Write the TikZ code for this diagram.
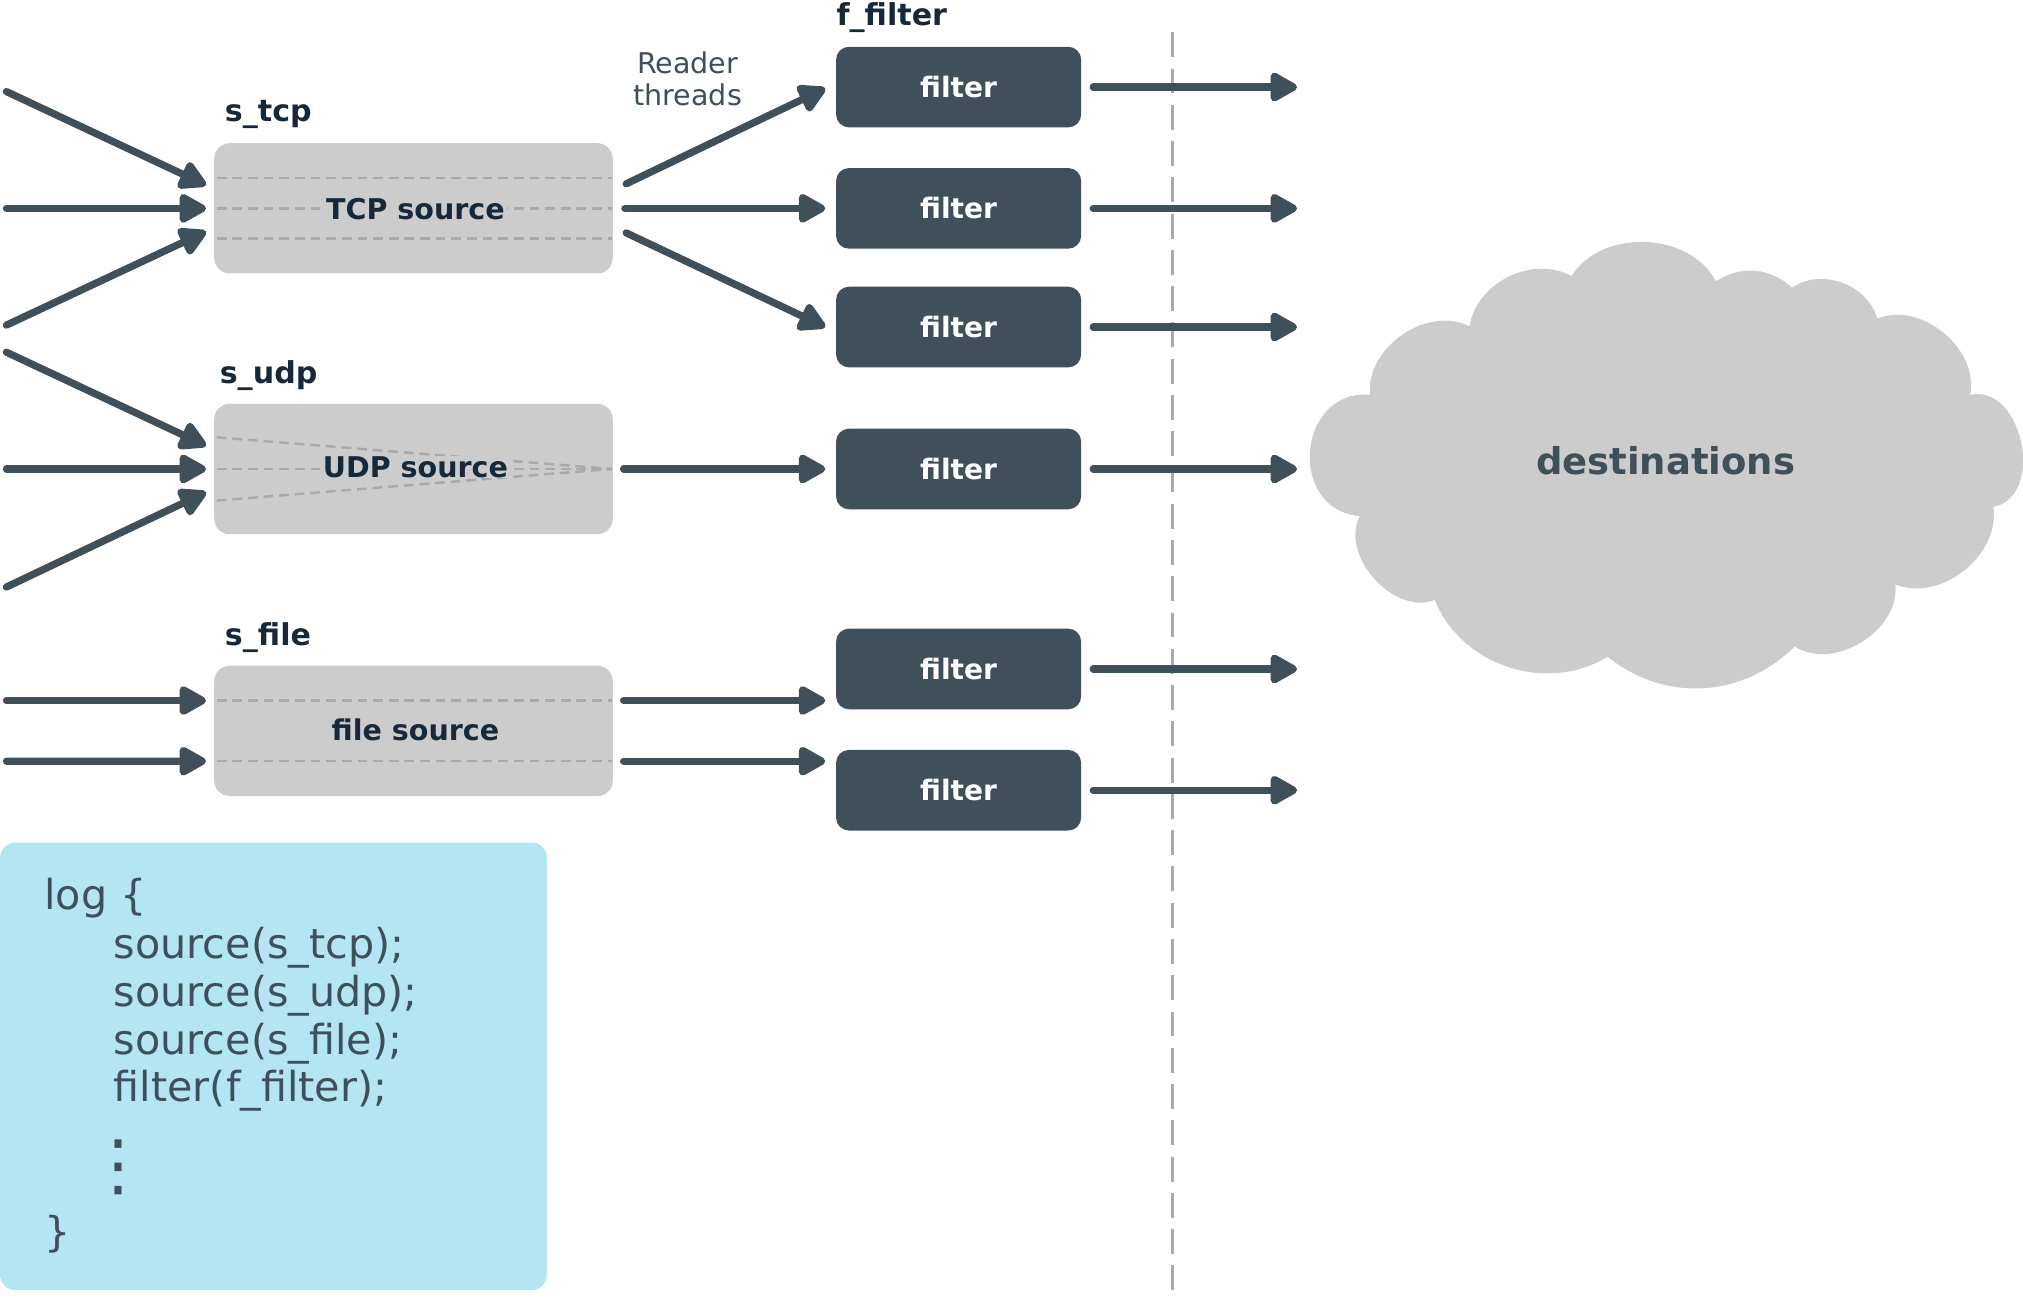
\documentclass[tikz,border=0pt]{standalone}
\usepackage{fontspec}
\setmainfont{DejaVu Sans}
\usetikzlibrary{arrows.meta,calc}
\definecolor{dk}{HTML}{3F505A}
\definecolor{lbl}{HTML}{16293A}
\definecolor{gbox}{HTML}{CCCCCC}
\definecolor{gdash}{HTML}{AAAAAA}
\definecolor{codebg}{HTML}{B3E5F3}
\begin{document}
\begin{tikzpicture}[x=0.02cm,y=-0.02cm,
  srcbox/.style={fill=gbox, rounded corners=0.24cm, minimum width=6.18cm, minimum height=2.02cm, inner sep=0pt},
  srctext/.style={font=\fontsize{12.6}{15}\selectfont\bfseries, text=lbl, inner sep=1pt, fill=gbox},
  fbox/.style={fill=dk, rounded corners=0.2cm, minimum width=3.8cm, minimum height=1.25cm, inner sep=0pt, text=white, font=\fontsize{12.4}{15}\selectfont\bfseries},
  lab/.style={font=\fontsize{13.3}{16}\selectfont\bfseries, text=lbl, inner sep=0pt, anchor=base west},
  codetxt/.style={font=\fontsize{18.2}{21}\selectfont, text=dk, inner sep=0pt, anchor=base west},
  arr/.style={draw=dk, line width=3.2pt, line cap=round, -{Triangle[length=13.5pt,width=14pt,round]}},
  idash/.style={draw=gdash, line width=1.1pt, dash pattern=on 4.3pt off 2.6pt},
  vdash/.style={draw=gdash, line width=1.2pt, dash pattern=on 11pt off 5pt},
]
\useasboundingbox (0,0) rectangle (1568,1006);

% vertical separator
\coordinate (vtop) at (909,25);
\coordinate (vbot) at (909,1006);
\draw[vdash] (vtop) -- (vbot);

% source boxes
\node[srcbox] (tcp) at (320.5,161.5) {};
\node[srcbox] (udp) at (320.5,363.5) {};
\node[srcbox] (file) at (320.5,566.5) {};

\draw[idash] (168,138) -- (474,138);
\draw[idash] (168,161.5) -- (474,161.5);
\draw[idash] (168,185) -- (474,185);
\node[srctext] (tcpt) at (322,162) {TCP source};

\draw[idash] (168,339) -- (474,363.5);
\draw[idash] (168,388) -- (474,363.5);
\draw[idash] (168,363.5) -- (474,363.5);
\node[srctext, inner sep=0pt] (udpt) at (322,362) {UDP source};

\draw[idash] (168,543) -- (474,543);
\draw[idash] (168,590) -- (474,590);
\node[srctext, fill=none] (filet) at (322,566) {file source};

% labels
\node[lab] (ltcp) at (174,94) {s\_tcp};
\node[lab] (ludp) at (170,297) {s\_udp};
\node[lab] (lfile) at (174,500) {s\_file};
\node[lab] (lff) at (648,20) {f\_filter};
\node[font=\fontsize{12.6}{14.2}\selectfont, text=dk, align=center, inner sep=0pt] (rt) at (533,61) {Reader\\threads};

% filters
\node[fbox] (f1) at (743,67.5) {filter};
\node[fbox] (f2) at (743,161.5) {filter};
\node[fbox] (f3) at (743,253.5) {filter};
\node[fbox] (f4) at (743,363.5) {filter};
\node[fbox] (f5) at (743,518.5) {filter};
\node[fbox] (f6) at (743,612.5) {filter};

% input ends
\coordinate (i1) at (5,71);
\coordinate (i2) at (5,161.5);
\coordinate (i3) at (5,252);
\coordinate (i4) at (5,273);
\coordinate (i5) at (5,363.5);
\coordinate (i6) at (5,455);
\coordinate (i7) at (5,543);
\coordinate (i8) at (5,590);

\draw[arr] (i1) -- ($(tcp.west)+(-6,-18)$);
\draw[arr] (i2) -- ($(tcp.west)+(-6,0)$);
\draw[arr] (i3) -- ($(tcp.west)+(-6,18)$);
\draw[arr] (i4) -- ($(udp.west)+(-6,-18)$);
\draw[arr] (i5) -- ($(udp.west)+(-6,0)$);
\draw[arr] (i6) -- ($(udp.west)+(-6,18)$);
\draw[arr] (i7) -- ($(file.west)+(-6,-23.5)$);
\draw[arr] (i8) -- ($(file.west)+(-6,23.5)$);

% reader threads
\draw[arr] ($(tcp.east)+(10,-19)$) -- ($(f1.west)+(-8,1)$);
\draw[arr] ($(tcp.east)+(9,0)$) -- ($(f2.west)+(-8,0)$);
\draw[arr] ($(tcp.east)+(10,19)$) -- ($(f3.west)+(-8,0)$);
\draw[arr] ($(udp.east)+(8,0)$) -- ($(f4.west)+(-8,0)$);
\coordinate (fo1) at ($(file.east)+(8,-23.5)$);
\coordinate (fo2) at ($(file.east)+(8,23.5)$);
\draw[arr] (fo1) -- ([xshift=-0.16cm]f5.west |- fo1);
\draw[arr] (fo2) -- ([xshift=-0.16cm]f6.west |- fo2);

% outputs
\foreach \f in {f1,f2,f3,f4,f5,f6}{
  \coordinate (o\f) at ($(\f.east)+(167,0)$);
  \draw[arr] ($(\f.east)+(9,0)$) -- (o\f);
}

% cloud
\coordinate (c1) at (1218,214);
\coordinate (c2) at (1330,218);
\coordinate (c3) at (1389,223);
\coordinate (c4) at (1455,247);
\coordinate (c5) at (1527,306);
\coordinate (c6) at (1545,393);
\coordinate (c7) at (1469,453);
\coordinate (c8) at (1391,501);
\coordinate (c9) at (1246,509);
\coordinate (c10) at (1112,465);
\coordinate (c11) at (1054,400);
\coordinate (c12) at (1062,306);
\coordinate (c13) at (1139,253);
\fill[gbox] (c13) to[bend left=55] (c1) to[bend left=60] (c2) to[bend left=38] (c3)
  to[bend left=55] (c4) to[bend left=62] (c5) to[bend left=90, looseness=1.2] (c6)
  to[bend left=60] (c7) to[bend left=65] (c8) to[bend left=42] (c9)
  to[bend left=50] (c10) to[bend left=70] (c11) to[bend left=90, looseness=1.55] (c12)
  to[bend left=62] (c13) -- cycle;
\node[font=\fontsize{16.3}{20}\selectfont\bfseries, text=dk] (dest) at (1291,357) {destinations};

% code box
\node[fill=codebg, rounded corners=0.24cm, minimum width=8.48cm, minimum height=6.94cm, inner sep=0pt] (code) at (212,826.5) {};
\node[codetxt] (cl1) at (34,705) {log \{};
\node[codetxt] (cl2) at (88,743) {source(s\_tcp);};
\node[codetxt] (cl3) at (88,780) {source(s\_udp);};
\node[codetxt] (cl4) at (88,817) {source(s\_file);};
\node[codetxt] (cl5) at (88,854) {filter(f\_filter);};
\node[font=\fontsize{30}{30}\selectfont, text=dk, inner sep=0pt] (dots) at (92,905) {⋮};
\node[codetxt] (cl6) at (34,966) {\}};
\end{tikzpicture}
\end{document}
